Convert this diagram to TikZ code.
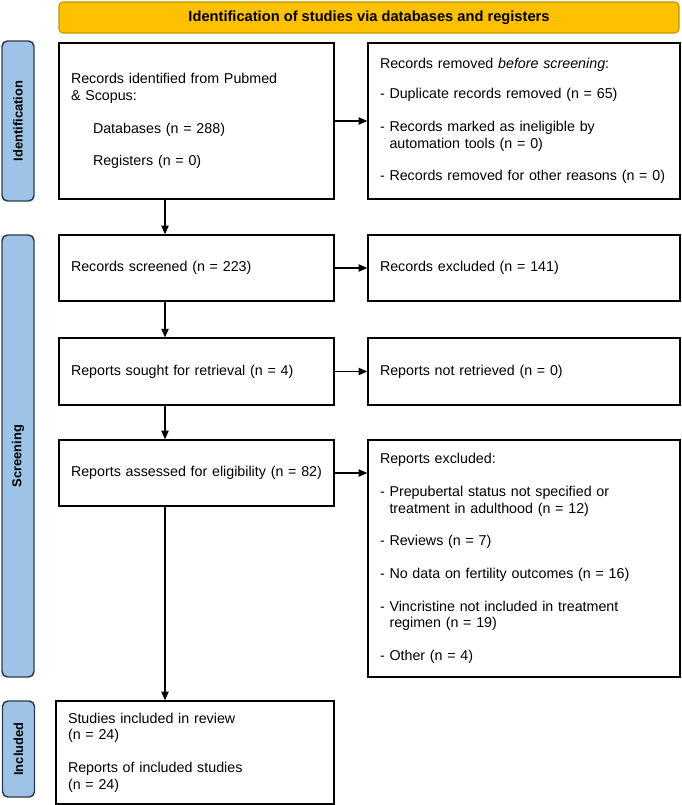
\documentclass[tikz,border=0pt]{standalone}
\usepackage{fontspec}
\setmainfont{Liberation Sans}
\usetikzlibrary{arrows.meta}
\definecolor{hdrgold}{HTML}{FFC000}
\definecolor{hdredge}{HTML}{C49500}
\definecolor{barblue}{HTML}{9DC3E6}
\definecolor{baredge}{HTML}{2B3A4A}
\tikzset{>={Triangle[length=6.5pt,width=5.5pt]},
  flow/.style={->,line width=1pt},
  box/.style={draw,line width=1.1pt,align=left,inner xsep=9pt,inner ysep=0pt,
    font=\fontsize{10.7}{12.5}\selectfont},
  leftbox/.style={box,text width=188.25pt},
  rightbox/.style={box,text width=216pt},
  header/.style={draw=hdredge,fill=hdrgold,line width=0.8pt,rounded corners=3pt,
    minimum width=465pt,minimum height=23.25pt,font=\fontsize{11}{13}\selectfont\bfseries},
  phase/.style={draw=baredge,fill=barblue,line width=1.1pt,rounded corners=4pt,rotate=90,
    minimum height=24pt,inner sep=0pt,font=\fontsize{9.7}{11}\selectfont\bfseries}}

\begin{document}
\begin{tikzpicture}[x=0.75pt,y=-0.75pt]
  \useasboundingbox (0,0) rectangle (681,805);

  \node[header] (head) at (369,17.5) {Identification of studies via databases and registers};

  \node[phase,minimum width=120pt] (idbar) at (18,121) {Identification};
  \node[phase,minimum width=331.5pt] (scrbar) at (18,456) {Screening};
  \node[phase,minimum width=72pt] (incbar) at (18.5,749) {Included};

  \node[leftbox,minimum height=117pt] (ident) at (196.5,121)
    {Records identified from Pubmed\\\& Scopus:\\[12pt]\hspace*{16.5pt}Databases (n = 288)\\[12pt]\hspace*{16.5pt}Registers (n = 0)};
  \node[rightbox,minimum height=117pt] (removed) at (524,121)
    {Records removed \textit{before screening}:\\[10pt]- Duplicate records removed (n = 65)\\[12pt]- Records marked as ineligible by\\\hphantom{- }automation tools (n = 0)\\[12pt]- Records removed for other reasons (n = 0)};

  \node[leftbox,minimum height=49.5pt] (screened) at (196.5,268) {Records screened (n = 223)};
  \node[rightbox,minimum height=49.5pt] (excluded) at (524,268) {Records excluded (n = 141)};

  \node[leftbox,minimum height=50pt] (sought) at (196.5,371.5) {Reports sought for retrieval (n = 4)};
  \node[rightbox,minimum height=50pt] (notretr) at (524,371.5) {Reports not retrieved (n = 0)};

  \node[leftbox,minimum height=49.5pt] (assessed) at (196.5,473) {Reports assessed for eligibility (n = 82)};
  \node[rightbox,minimum height=177.75pt] (repexcl) at (524,558.5)
    {Reports excluded:\\[12pt]- Prepubertal status not specified or\\\hphantom{- }treatment in adulthood (n = 12)\\[12pt]- Reviews (n = 7)\\[12pt]- No data on fertility outcomes (n = 16)\\[12pt]- Vincristine not included in treatment\\\hphantom{- }regimen (n = 19)\\[12pt]- Other (n = 4)};

  \node[box,text width=190.5pt,minimum height=77.25pt] (included) at (195,752.5)
    {Studies included in review\\(n = 24)\\[12pt]Reports of included studies\\(n = 24)};

  \coordinate (spine) at (165,0);

  \path[flow]
  (ident.east) edge (removed.west)
  (ident.south -| spine) edge (screened.north -| spine)
  (screened.east) edge (excluded.west)
  (screened.south -| spine) edge (sought.north -| spine)
  (sought.east) edge (notretr.west)
  (sought.south -| spine) edge (assessed.north -| spine)
  (assessed.east) edge (assessed.east -| repexcl.west)
  (assessed.south -| spine) edge (included.north -| spine)
  ;
\end{tikzpicture}
\end{document}
